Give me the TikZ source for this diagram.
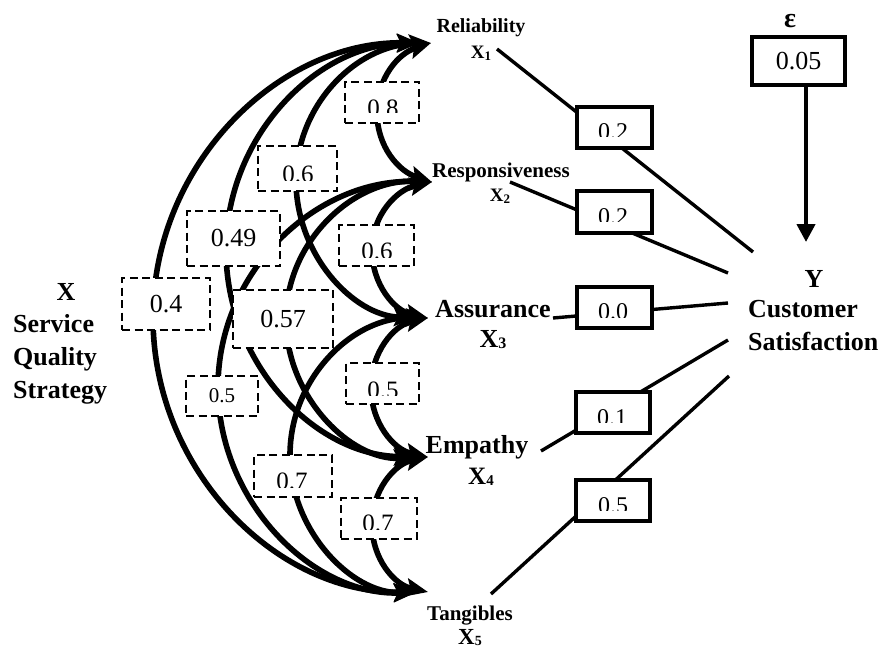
\documentclass[tikz,border=0pt]{standalone}
\usepackage{fontspec}
\setmainfont{Liberation Serif}
\usetikzlibrary{arrows.meta}
\newcommand\fsz[1]{\fontsize{#1}{#1}\selectfont}
\newcommand\cliptxt[6]{%
  \begin{scope}
    \clip ({#2-40},{-#3+3}) rectangle ({#2+40},{-#4});
    \node[anchor=base,inner sep=0pt,font=\fsz{#5}] (#1) at (#2,{-#3-0.676*#5}) {#6};
  \end{scope}}
\tikzset{
  corr/.style={line width=5.6pt,>={Stealth[length=22pt,width=18pt,inset=4pt]},<->},
  dbox/.style={draw,line width=2.8pt,dash pattern=on 8pt off 4.5pt,fill=white,inner sep=0pt,font=\fsz{26}},
  sbox/.style={draw,line width=3.5pt,fill=white,inner sep=0pt,font=\fsz{26}},
  link/.style={line width=3.4pt},
  yarr/.style={line width=4.2pt,-{Triangle[length=18pt,width=18pt]}},
  lab/.style={anchor=base,inner sep=0pt},
}
\begin{document}
\begin{tikzpicture}[x=1pt,y=1pt]
\useasboundingbox (0,0) rectangle (883,-650);
% tips of arrows
\coordinate (t1) at (431,-43);
\coordinate (t2) at (432,-182);
\coordinate (t3) at (428,-318);
\coordinate (t4) at (428,-457);
\coordinate (t5) at (428,-592);
% leftmost points of correlation arcs
\coordinate (l12) at (377,-112.5);
\coordinate (l23) at (372,-250);
\coordinate (l34) at (371,-387.5);
\coordinate (l45) at (372,-524.5);
\coordinate (l13) at (296,-180.5);
\coordinate (l24) at (286,-319.5);
\coordinate (l35) at (290,-455);
\coordinate (l14) at (226,-250);
\coordinate (l25) at (218,-387);
\coordinate (l15) at (153,-317.5);
% correlation arcs
\draw[corr] (t1) to[out=198,in=90] (l12) to[out=270,in=162] (t2);
\draw[corr] (t2) to[out=192,in=90] (l23) to[out=270,in=168] (t3);
\draw[corr] (t3) to[out=192,in=90] (l34) to[out=270,in=168] (t4);
\draw[corr] (t4) to[out=192,in=90] (l45) to[out=270,in=168] (t5);
\draw[corr,shorten >=12pt] (t1) to[out=181.7,in=90] (l13) to[out=270,in=178.3] (t3);
\draw[corr,shorten >=12pt] (t2) to[out=177.4,in=90] (l24) to[out=270,in=182.6] (t4);
\draw[corr,shorten >=12pt] (t3) to[out=178.8,in=90] (l35) to[out=270,in=181.2] (t5);
\draw[corr,shorten <=12pt,shorten >=12pt] (t1) to[out=180.8,in=90] (l14) to[out=270,in=179.2] (t4);
\draw[corr,shorten >=12pt] (t2) to[out=178.1,in=90] (l25) to[out=270,in=181.9] (t5);
\draw[corr,shorten <=12pt,shorten >=12pt] (t1) to[out=179.5,in=90] (l15) to[out=270,in=180.5] (t5);
% dashed correlation boxes
\node[dbox,minimum width=74pt,minimum height=41pt] (b12) at (382,-102.5) {};
\node[dbox,minimum width=75pt,minimum height=41pt] (b23) at (376.5,-245.5) {};
\node[dbox,minimum width=73pt,minimum height=41pt] (b34) at (382.5,-383.5) {};
\node[dbox,minimum width=76pt,minimum height=41pt] (b45) at (379,-518.5) {};
\node[dbox,minimum width=79pt,minimum height=45pt] (b13) at (297.5,-168.5) {};
\node[dbox,minimum width=78pt,minimum height=42pt] (b35) at (293,-476) {};
\node[dbox,minimum width=93pt,minimum height=55pt] (b14) at (233.5,-238.5) {0.49};
\node[dbox,minimum width=100pt,minimum height=58pt] (b24) at (283,-319) {0.57};
\node[dbox,minimum width=88pt,minimum height=52pt] (b15) at (166,-304) {0.4};
\node[dbox,minimum width=72pt,minimum height=40pt,font=\fsz{21}] (b25) at (222,-396) {\raisebox{-3pt}{0.5}};
\cliptxt{v12}{383}{100}{113}{25}{0.8}
\cliptxt{v23}{377}{243}{257}{25}{0.6}
\cliptxt{v34}{383}{382}{395}{25}{0.5}
\cliptxt{v45}{378}{515}{529}{25}{0.7}
\cliptxt{v13}{298}{166}{180}{25}{0.6}
\cliptxt{v35}{292}{473}{487}{25}{0.7}
% path lines to Y
\coordinate (s1) at (497,-49);  \coordinate (e1) at (753,-252);
\coordinate (s2) at (510,-182); \coordinate (e2) at (728,-273);
\coordinate (s3) at (553,-318); \coordinate (e3) at (728,-303);
\coordinate (s4) at (541,-451); \coordinate (e4) at (728,-340);
\coordinate (s5) at (491,-594); \coordinate (e5) at (729,-376);
\draw[link] (s1) -- (e1);
\draw[link] (s2) -- (e2);
\draw[link] (s3) -- (e3);
\draw[link] (s4) -- (e4);
\draw[link] (s5) -- (e5);
\node[sbox,minimum width=75pt,minimum height=41pt] (c1) at (614.5,-127.5) {};
\node[sbox,minimum width=75pt,minimum height=42pt] (c2) at (614.5,-212) {};
\node[sbox,minimum width=75pt,minimum height=41pt] (c3) at (614.5,-307.5) {};
\node[sbox,minimum width=74pt,minimum height=41pt] (c4) at (613,-412.5) {};
\node[sbox,minimum width=74pt,minimum height=41pt] (c5) at (613,-500.5) {};
\cliptxt{w1}{613}{123}{137}{24}{0.2}
\cliptxt{w2}{613}{208}{221}{24}{0.2}
\cliptxt{w3}{613}{303}{317}{24}{0.0}
\cliptxt{w4}{612}{409}{422}{24}{0.1}
\cliptxt{w5}{613}{497}{510}{24}{0.5}
% error term
\node[sbox,minimum width=93pt,minimum height=48pt] (b05) at (798.5,-61) {0.05};
\coordinate (ya) at (806,-242);
\draw[yarr] (b05.south -| ya) -- (ya);
\node[lab,font=\bfseries\fsz{28}] (eps) at (790,-28) {ε};
% variable labels
\node[lab,font=\bfseries\fsz{20}] (rel) at (481,-33) {Reliability};
\node[lab,font=\bfseries\fsz{19}] (x1) at (481,-59) {X\raisebox{-2pt}{\fsz{13}1}};
\node[lab,font=\bfseries\fsz{21}] (resp) at (501,-177) {Responsiveness};
\node[lab,font=\bfseries\fsz{19}] (x2) at (500,-201) {X\raisebox{-2pt}{\fsz{13}2}};
\node[lab,font=\bfseries\fsz{26}] (assu) at (493,-317) {Assurance};
\node[lab,font=\bfseries\fsz{26}] (x3) at (493,-347) {X\raisebox{-1pt}{\fsz{16}3}};
\node[lab,font=\bfseries\fsz{26}] (emp) at (477,-453) {Empathy};
\node[lab,font=\bfseries\fsz{25}] (x4) at (481,-484) {X\raisebox{-1pt}{\fsz{15}4}};
\node[lab,font=\bfseries\fsz{21}] (tang) at (470,-620) {Tangibles};
\node[lab,font=\bfseries\fsz{23}] (x5) at (470,-644) {X\raisebox{-1pt}{\fsz{14}5}};
\node[lab,font=\bfseries\fsz{26}] (yl) at (814,-287) {Y};
\node[lab,anchor=base west,font=\bfseries\fsz{26}] (cust) at (748,-317) {Customer};
\node[lab,anchor=base west,font=\bfseries\fsz{26}] (sat) at (748,-350) {Satisfaction};
\node[lab,font=\bfseries\fsz{26}] (xl) at (66,-300) {X};
\node[lab,anchor=base west,font=\bfseries\fsz{26}] (serv) at (13,-332) {Service};
\node[lab,anchor=base west,font=\bfseries\fsz{26}] (qual) at (13,-365) {Quality};
\node[lab,anchor=base west,font=\bfseries\fsz{26}] (strat) at (13,-398) {Strategy};
\end{tikzpicture}
\end{document}
